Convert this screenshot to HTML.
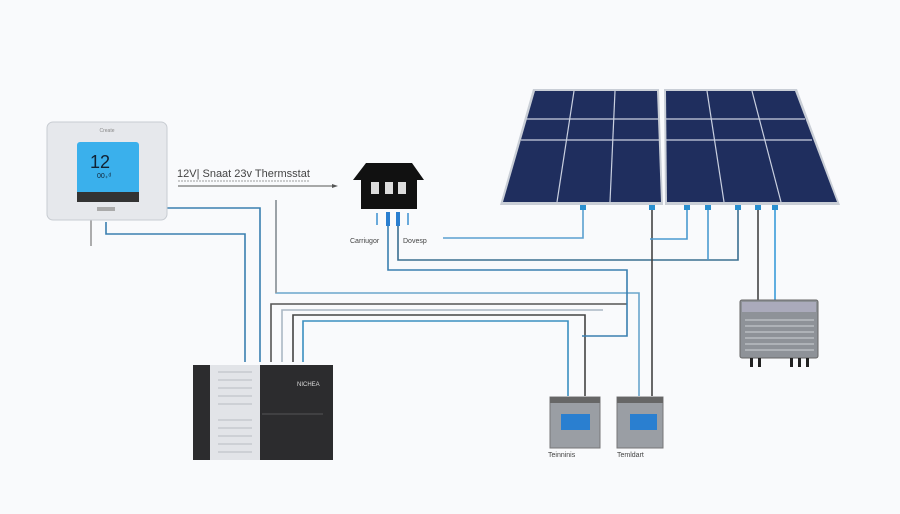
<!DOCTYPE html>
<html><head><meta charset="utf-8"><style>
html,body{margin:0;padding:0;background:#f9fafc;}
svg{display:block}
text{font-family:"Liberation Sans",sans-serif}
</style></head><body>
<svg width="900" height="514" viewBox="0 0 900 514" xmlns="http://www.w3.org/2000/svg">
<rect width="900" height="514" fill="#f9fafc"/>
<!-- wires -->
<g fill="none" stroke-width="1.6">
<polyline points="167,208 260,208 260,362" stroke="#3a7fb0"/>
<polyline points="106,222 106,234 245,234 245,362" stroke="#3a7fb0"/>
<polyline points="276,200 276,293 639,293 639,396" stroke="#6aa6cc"/>
<line x1="276" y1="200" x2="276" y2="293" stroke="#999"/>
<polyline points="271,362 271,304 627,304" stroke="#555"/>
<polyline points="282,362 282,310 603,310" stroke="#aab8c4"/>
<polyline points="293,362 293,315 585,315 585,396" stroke="#444"/>
<polyline points="303,362 303,321 568,321 568,396" stroke="#3a8fc0"/>
<polyline points="388,215 388,270 627,270 627,336 582,336" stroke="#3a7fb0"/>
<polyline points="398,215 398,260 738,260 738,208" stroke="#3a6f90"/>
<polyline points="443,238 583,238 583,208" stroke="#5aa0d0"/>
<polyline points="652,208 652,396" stroke="#444"/>
<polyline points="650,239 687,239 687,208" stroke="#4a9ad0"/>
<line x1="708" y1="208" x2="708" y2="260" stroke="#4a9ad0"/>
<line x1="758" y1="208" x2="758" y2="300" stroke="#444"/>
<line x1="775" y1="208" x2="775" y2="300" stroke="#3a9ad8"/>
<line x1="91" y1="220" x2="91" y2="246" stroke="#999"/>
</g>
<!-- thermostat -->
<rect x="47" y="122" width="120" height="98" rx="6" fill="#e6e8ec" stroke="#c8ccd2"/>
<text x="107" y="132" font-size="5" fill="#888" text-anchor="middle">Create</text>
<rect x="77" y="142" width="62" height="60" rx="3" fill="#3ab0ec"/>
<rect x="77" y="192" width="62" height="10" fill="#333"/>
<text x="90" y="168" font-size="18" fill="#123">12</text>
<text x="97" y="178" font-size="7" fill="#123">00₊ᵈ</text>
<rect x="97" y="207" width="18" height="4" fill="#aaa"/>
<!-- title -->
<text x="177" y="177" font-size="11" fill="#444">12V| Snaat 23v Thermsstat</text>
<line x1="178" y1="181" x2="310" y2="181" stroke="#bbb" stroke-width="1.5" stroke-dasharray="2 1"/>
<line x1="178" y1="186" x2="333" y2="186" stroke="#555"/>
<polygon points="338,186 332,184 332,188" fill="#555"/>
<!-- house -->
<polygon points="353,180 366,163 412,163 424,180 417,180 417,209 361,209 361,180" fill="#111"/>
<rect x="371" y="182" width="8" height="12" fill="#ddd"/><rect x="385" y="182" width="8" height="12" fill="#ddd"/><rect x="398" y="182" width="8" height="12" fill="#ddd"/>
<g stroke="#3a8fd0" stroke-width="1.5"><line x1="377" y1="213" x2="377" y2="225"/><line x1="408" y1="213" x2="408" y2="225"/></g>
<rect x="386" y="212" width="4" height="14" fill="#2a7fd0"/><rect x="396" y="212" width="4" height="14" fill="#2a7fd0"/>
<text x="350" y="243" font-size="7" fill="#444">Carriugor</text>
<text x="403" y="243" font-size="7" fill="#444">Dovesp</text>
<!-- solar panels -->
<polygon points="533,89 659,89 663,205 500,205" fill="#c9ced6"/>
<polygon points="535,91 657,91 661,202 503,202" fill="#1f2e5e"/>
<polygon points="664,89 797,89 840,205 665,205" fill="#c9ced6"/>
<polygon points="666,91 795,91 837,202 667,202" fill="#1f2e5e"/>
<g stroke="#c9d0e0" stroke-width="1.2">
<line x1="574" y1="91" x2="557" y2="202"/><line x1="615" y1="91" x2="610" y2="202"/>
<line x1="526" y1="119" x2="658" y2="119"/><line x1="521" y1="140" x2="659" y2="140"/>
<line x1="707" y1="91" x2="724" y2="202"/><line x1="752" y1="91" x2="781" y2="202"/>
<line x1="666" y1="119" x2="805" y2="119"/><line x1="666" y1="140" x2="812" y2="140"/>
</g>
<g fill="#2a90d0"><rect x="580" y="205" width="6" height="5"/><rect x="649" y="205" width="6" height="5"/><rect x="684" y="205" width="6" height="5"/><rect x="705" y="205" width="6" height="5"/><rect x="735" y="205" width="6" height="5"/><rect x="755" y="205" width="6" height="5"/><rect x="772" y="205" width="6" height="5"/></g>
<!-- inverter -->
<rect x="740" y="300" width="78" height="58" rx="2" fill="#8e9298" stroke="#666"/>
<rect x="742" y="302" width="74" height="10" fill="#aab"/>
<g stroke="#cfd2d6"><line x1="745" y1="320" x2="814" y2="320"/><line x1="745" y1="326" x2="814" y2="326"/><line x1="745" y1="332" x2="814" y2="332"/><line x1="745" y1="338" x2="814" y2="338"/><line x1="745" y1="344" x2="814" y2="344"/><line x1="745" y1="350" x2="814" y2="350"/></g>
<g fill="#222"><rect x="750" y="358" width="3" height="9"/><rect x="758" y="358" width="3" height="9"/><rect x="790" y="358" width="3" height="9"/><rect x="798" y="358" width="3" height="9"/><rect x="806" y="358" width="3" height="9"/></g>
<!-- battery cabinet -->
<rect x="193" y="365" width="140" height="95" fill="#2c2c2e"/>
<rect x="210" y="365" width="50" height="95" fill="#e2e4e8"/>
<g stroke="#b8bcc2"><line x1="218" y1="372" x2="252" y2="372"/><line x1="218" y1="380" x2="252" y2="380"/><line x1="218" y1="388" x2="252" y2="388"/><line x1="218" y1="396" x2="252" y2="396"/><line x1="218" y1="404" x2="252" y2="404"/><line x1="218" y1="420" x2="252" y2="420"/><line x1="218" y1="428" x2="252" y2="428"/><line x1="218" y1="436" x2="252" y2="436"/><line x1="218" y1="444" x2="252" y2="444"/><line x1="218" y1="452" x2="252" y2="452"/></g>
<line x1="262" y1="414" x2="323" y2="414" stroke="#555"/>
<text x="297" y="386" font-size="6" fill="#ddd">NICHEA</text>
<!-- batteries -->
<rect x="550" y="397" width="50" height="51" fill="#9a9ea4" stroke="#777"/>
<rect x="550" y="397" width="50" height="6" fill="#666"/>
<rect x="561" y="414" width="29" height="16" fill="#2a7fd0"/>
<rect x="617" y="397" width="46" height="51" fill="#9a9ea4" stroke="#777"/>
<rect x="617" y="397" width="46" height="6" fill="#666"/>
<rect x="630" y="414" width="27" height="16" fill="#2a7fd0"/>
<text x="548" y="457" font-size="7" fill="#444">Teinninis</text>
<text x="617" y="457" font-size="7" fill="#444">Temldart</text>
</svg>
</body></html>
